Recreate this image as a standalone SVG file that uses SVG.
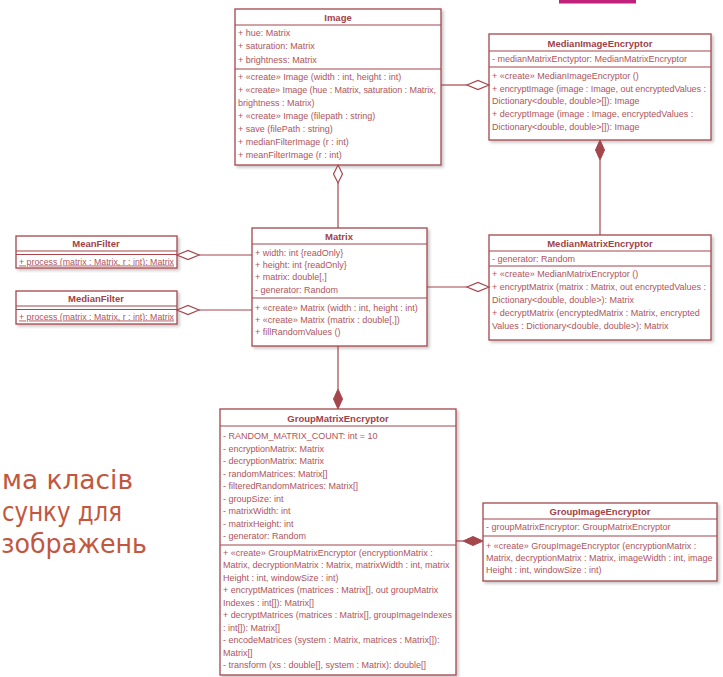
<svg xmlns="http://www.w3.org/2000/svg" width="723" height="677" viewBox="0 0 723 677">
  <style>
    .box { fill: #ffffff; stroke: #a4464c; stroke-width: 1.3; }
    .sep { stroke: #a4464c; stroke-width: 1.1; fill: none; }
    .ln { stroke: #a4464c; stroke-width: 1.2; fill: none; }
    .open { fill: #ffffff; stroke: #a4464c; stroke-width: 1.2; }
    .solid { fill: #a4464c; stroke: #a4464c; stroke-width: 1; }
    .t { font-family: "Liberation Sans", Arial, sans-serif; font-size: 9px; fill: #b0545b; }
    .h { font-family: "Liberation Sans", Arial, sans-serif; font-size: 9.5px; font-weight: bold; fill: #a23f48; text-anchor: middle; }
    .u { text-decoration: underline; }
    .slide { font-family: "DejaVu Sans", "Noto Sans", sans-serif; font-size: 26px; fill: #c2573d; }
  </style>
  <defs>
    <filter id="shadow" x="-10%" y="-10%" width="125%" height="125%">
      <feDropShadow dx="2" dy="2" stdDeviation="1.8" flood-color="#000000" flood-opacity="0.22"/>
    </filter>
  </defs>

  <rect width="723" height="677" fill="#ffffff"/>
  <!-- accent bar at the top edge -->
  <rect x="559" y="0" width="77" height="3.5" fill="#c0217a"/>

  <!-- slide heading text, clipped at the left edge -->
  <g id="heading">
    <text class="slide" x="2" y="489" textLength="131" lengthAdjust="spacingAndGlyphs">ма класів</text>
    <text class="slide" x="2" y="521" textLength="120" lengthAdjust="spacingAndGlyphs">сунку для</text>
    <text class="slide" x="1" y="553" textLength="146" lengthAdjust="spacingAndGlyphs">зображень</text>
  </g>

  <!-- Image -->
  <g id="Image">
    <rect class="box" x="235" y="9" width="206" height="156" filter="url(#shadow)"/>
    <line class="sep" x1="235" y1="25" x2="441" y2="25"/>
    <line class="sep" x1="235" y1="69" x2="441" y2="69"/>
    <text class="h" x="338" y="20.5">Image</text>
    <text class="t" x="238" y="36">+ hue: Matrix</text>
    <text class="t" x="238" y="49">+ saturation: Matrix</text>
    <text class="t" x="238" y="63">+ brightness: Matrix</text>
    <text class="t" x="238" y="80">+ «create» Image (width : int, height : int)</text>
    <text class="t" x="238" y="93" textLength="198" lengthAdjust="spacing">+ «create» Image (hue : Matrix, saturation : Matrix,</text>
    <text class="t" x="238" y="106">brightness : Matrix)</text>
    <text class="t" x="238" y="119">+ «create» Image (filepath : string)</text>
    <text class="t" x="238" y="132">+ save (filePath : string)</text>
    <text class="t" x="238" y="145">+ medianFilterImage (r : int)</text>
    <text class="t" x="238" y="158">+ meanFilterImage (r : int)</text>
  </g>

  <!-- MedianImageEncryptor -->
  <g id="MedianImageEncryptor">
    <rect class="box" x="489" y="34" width="222" height="106" filter="url(#shadow)"/>
    <line class="sep" x1="489" y1="51" x2="711" y2="51"/>
    <line class="sep" x1="489" y1="67" x2="711" y2="67"/>
    <text class="h" x="600" y="46.5">MedianImageEncryptor</text>
    <text class="t" x="492" y="62">- medianMatrixEnctyptor: MedianMatrixEncryptor</text>
    <text class="t" x="492" y="79">+ «create» MedianImageEncryptor ()</text>
    <text class="t" x="492" y="92" textLength="214" lengthAdjust="spacing">+ encryptImage (image : Image, out encryptedValues :</text>
    <text class="t" x="492" y="104">Dictionary&lt;double, double&gt;[]): Image</text>
    <text class="t" x="492" y="117">+ decryptImage (image : Image, encryptedValues :</text>
    <text class="t" x="492" y="130">Dictionary&lt;double, double&gt;[]): Image</text>
  </g>

  <!-- MeanFilter -->
  <g id="MeanFilter">
    <rect class="box" x="16" y="236" width="161" height="32" filter="url(#shadow)"/>
    <line class="sep" x1="16" y1="251" x2="177" y2="251"/>
    <line class="sep" x1="16" y1="254.5" x2="177" y2="254.5"/>
    <text class="h" x="96" y="246.5">MeanFilter</text>
    <text class="t u" x="19" y="264.5" textLength="155" lengthAdjust="spacingAndGlyphs">+ process (matrix : Matrix, r : int): Matrix</text>
  </g>

  <!-- MedianFilter -->
  <g id="MedianFilter">
    <rect class="box" x="16" y="291" width="161" height="33" filter="url(#shadow)"/>
    <line class="sep" x1="16" y1="306" x2="177" y2="306"/>
    <line class="sep" x1="16" y1="309.5" x2="177" y2="309.5"/>
    <text class="h" x="96" y="302">MedianFilter</text>
    <text class="t u" x="19" y="319.5" textLength="155" lengthAdjust="spacingAndGlyphs">+ process (matrix : Matrix, r : int): Matrix</text>
  </g>

  <!-- Matrix -->
  <g id="Matrix">
    <rect class="box" x="252" y="228" width="175" height="118" filter="url(#shadow)"/>
    <line class="sep" x1="252" y1="244" x2="427" y2="244"/>
    <line class="sep" x1="252" y1="298" x2="427" y2="298"/>
    <text class="h" x="339" y="239.5">Matrix</text>
    <text class="t" x="255" y="256">+ width: int {readOnly}</text>
    <text class="t" x="255" y="268">+ height: int {readOnly}</text>
    <text class="t" x="255" y="280">+ matrix: double[,]</text>
    <text class="t" x="255" y="293">- generator: Random</text>
    <text class="t" x="255" y="311">+ «create» Matrix (width : int, height : int)</text>
    <text class="t" x="255" y="323">+ «create» Matrix (matrix : double[,])</text>
    <text class="t" x="255" y="335">+ fillRandomValues ()</text>
  </g>

  <!-- MedianMatrixEncryptor -->
  <g id="MedianMatrixEncryptor">
    <rect class="box" x="489" y="235" width="222" height="105" filter="url(#shadow)"/>
    <line class="sep" x1="489" y1="251" x2="711" y2="251"/>
    <line class="sep" x1="489" y1="266" x2="711" y2="266"/>
    <text class="h" x="600" y="246.5">MedianMatrixEncryptor</text>
    <text class="t" x="492" y="262">- generator: Random</text>
    <text class="t" x="492" y="277">+ «create» MedianMatrixEncryptor ()</text>
    <text class="t" x="492" y="290" textLength="214" lengthAdjust="spacing">+ encryptMatrix (matrix : Matrix, out encryptedValues :</text>
    <text class="t" x="492" y="303">Dictionary&lt;double, double&gt;): Matrix</text>
    <text class="t" x="492" y="316">+ decryptMatrix (encryptedMatrix : Matrix, encrypted</text>
    <text class="t" x="492" y="329">Values : Dictionary&lt;double, double&gt;): Matrix</text>
  </g>

  <!-- GroupMatrixEncryptor -->
  <g id="GroupMatrixEncryptor">
    <rect class="box" x="220" y="409" width="236" height="266" filter="url(#shadow)"/>
    <line class="sep" x1="220" y1="426" x2="456" y2="426"/>
    <line class="sep" x1="220" y1="545" x2="456" y2="545"/>
    <text class="h" x="338" y="421.5">GroupMatrixEncryptor</text>
    <text class="t" x="223" y="439">- RANDOM_MATRIX_COUNT: int = 10</text>
    <text class="t" x="223" y="451.5">- encryptionMatrix: Matrix</text>
    <text class="t" x="223" y="464">- decryptionMatrix: Matrix</text>
    <text class="t" x="223" y="476.5">- randomMatrices: Matrix[]</text>
    <text class="t" x="223" y="489">- filteredRandomMatrices: Matrix[]</text>
    <text class="t" x="223" y="501.5">- groupSize: int</text>
    <text class="t" x="223" y="514">- matrixWidth: int</text>
    <text class="t" x="223" y="526.5">- matrixHeight: int</text>
    <text class="t" x="223" y="539">- generator: Random</text>
    <text class="t" x="223" y="556">+ «create» GroupMatrixEncryptor (encryptionMatrix :</text>
    <text class="t" x="223" y="568">Matrix, decryptionMatrix : Matrix, matrixWidth : int, matrix</text>
    <text class="t" x="223" y="580.5">Height : int, windowSize : int)</text>
    <text class="t" x="223" y="593">+ encryptMatrices (matrices : Matrix[], out groupMatrix</text>
    <text class="t" x="223" y="605.5">Indexes : int[]): Matrix[]</text>
    <text class="t" x="223" y="618" textLength="229" lengthAdjust="spacingAndGlyphs">+ decryptMatrices (matrices : Matrix[], groupImageIndexes</text>
    <text class="t" x="223" y="630.5">: int[]): Matrix[]</text>
    <text class="t" x="223" y="643">- encodeMatrices (system : Matrix, matrices : Matrix[]):</text>
    <text class="t" x="223" y="655.5">Matrix[]</text>
    <text class="t" x="223" y="668">- transform (xs : double[], system : Matrix): double[]</text>
  </g>

  <!-- GroupImageEncryptor -->
  <g id="GroupImageEncryptor">
    <rect class="box" x="483" y="503" width="234" height="78" filter="url(#shadow)"/>
    <line class="sep" x1="483" y1="519" x2="717" y2="519"/>
    <line class="sep" x1="483" y1="536" x2="717" y2="536"/>
    <text class="h" x="600" y="514.5">GroupImageEncryptor</text>
    <text class="t" x="486" y="530">- groupMatrixEncryptor: GroupMatrixEncryptor</text>
    <text class="t" x="486" y="549">+ «create» GroupImageEncryptor (encryptionMatrix :</text>
    <text class="t" x="486" y="561">Matrix, decryptionMatrix : Matrix, imageWidth : int, image</text>
    <text class="t" x="486" y="573">Height : int, windowSize : int)</text>
  </g>

  <!-- associations: open diamond = aggregation, filled diamond = composition -->
  <g id="connectors">
    <!-- Image <>— Matrix -->
    <line class="ln" x1="338" y1="183" x2="338" y2="228"/>
    <polygon class="open" points="338,165 342.5,174 338,183 333.5,174"/>
    <!-- MedianImageEncryptor <>— Image -->
    <line class="ln" x1="441" y1="85" x2="467" y2="85"/>
    <polygon class="open" points="489,85 478,80.5 467,85 478,89.5"/>
    <!-- MedianImageEncryptor <#>— MedianMatrixEncryptor -->
    <line class="ln" x1="600" y1="160" x2="600" y2="235"/>
    <polygon class="solid" points="600,140 604.5,150 600,160 595.5,150"/>
    <!-- MeanFilter <>— Matrix -->
    <line class="ln" x1="199" y1="255" x2="252" y2="255"/>
    <polygon class="open" points="177,255 188,250.5 199,255 188,259.5"/>
    <!-- MedianFilter <>— Matrix -->
    <line class="ln" x1="199" y1="310" x2="252" y2="310"/>
    <polygon class="open" points="177,310 188,305.5 199,310 188,314.5"/>
    <!-- MedianMatrixEncryptor <>— Matrix -->
    <line class="ln" x1="427" y1="287" x2="467" y2="287"/>
    <polygon class="open" points="489,287 478,282.5 467,287 478,291.5"/>
    <!-- GroupMatrixEncryptor <#>— Matrix -->
    <line class="ln" x1="338" y1="346" x2="338" y2="389"/>
    <polygon class="solid" points="338,389 342.5,399 338,409 333.5,399"/>
    <!-- GroupImageEncryptor <#>— GroupMatrixEncryptor -->
    <line class="ln" x1="456" y1="541" x2="463" y2="541"/>
    <polygon class="solid" points="483,541 473,536.5 463,541 473,545.5"/>
  </g>
</svg>
